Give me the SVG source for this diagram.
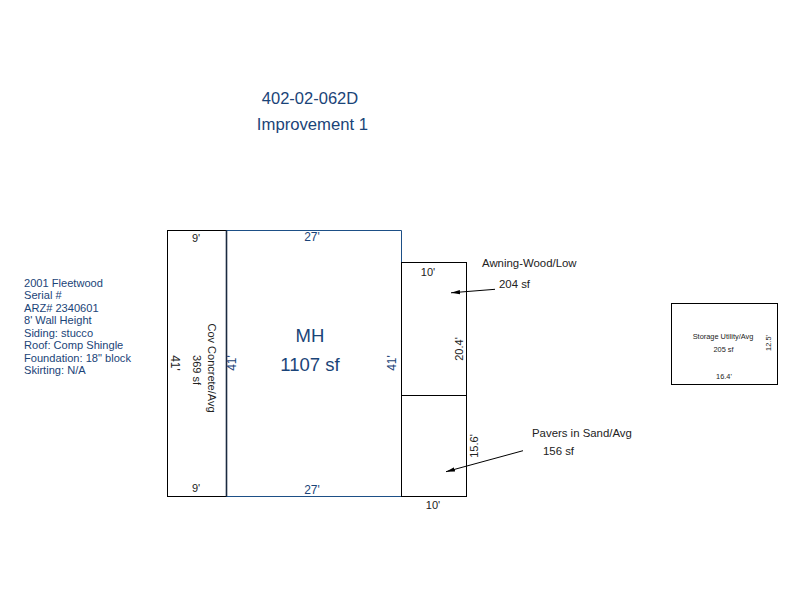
<svg xmlns="http://www.w3.org/2000/svg" width="800" height="600" viewBox="0 0 800 600">
<defs>
<marker id="arrow" markerUnits="userSpaceOnUse" markerWidth="9" markerHeight="6" refX="9" refY="3" orient="auto" viewBox="0 0 9 6"><path d="M9 3L0 0.8V5.200Z" fill="#000"/></marker>
</defs>
<style>
text{font-family:"Liberation Sans",Arial,sans-serif}
.b{fill:#1a4478}
.k{fill:#222}
.r{fill:none;stroke:#000;stroke-width:1}
.s12{font-size:12px}
.s11{font-size:11px}
.l{font-size:11.400px}
.t{font-size:7.400px}
.m{text-anchor:middle}
</style>
<rect width="800" height="600" fill="#fff"/>
<g id="titles">
<text class="b m" x="310" y="104" font-size="16.500">402-02-062D</text>
<text class="b m" x="312.500" y="130" font-size="16.700">Improvement 1</text>
</g>
<g id="notes" class="b" font-size="11.100">
<text x="24" y="287">2001 Fleetwood</text>
<text x="24" y="299">Serial #</text>
<text x="24" y="312">ARZ# 2340601</text>
<text x="24" y="324">8' Wall Height</text>
<text x="24" y="337">Siding: stucco</text>
<text x="24" y="349">Roof: Comp Shingle</text>
<text x="24" y="362">Foundation: 18" block</text>
<text x="24" y="374">Skirting: N/A</text>
</g>
<g id="cov-concrete">
<rect class="r" x="167.500" y="230.500" width="59" height="266"/>
<text class="k m s11" x="196" y="242">9'</text>
<text class="k m s11" x="196" y="492">9'</text>
<text class="k m s12" transform="translate(171 363) rotate(90)">41'</text>
<text class="k m s11" transform="translate(208 368) rotate(90)">Cov Concrete/Avg</text>
<text class="k m s11" transform="translate(193 370) rotate(90)">369 sf</text>
</g>
<g id="mh">
<path d="M226.500 230.500H401.500V496.500H226.500" fill="none" stroke="#1d4f86"/>
<line x1="226.500" y1="230.500" x2="226.500" y2="496.500" stroke="#1a2a40" stroke-width="1.600"/>
<text class="b m s12" x="312" y="241">27'</text>
<text class="b m s12" x="312" y="494">27'</text>
<text class="b m s12" transform="translate(236 363) rotate(-90)">41'</text>
<text class="b m s12" transform="translate(396 363) rotate(-90)">41'</text>
<text class="b m" x="310" y="342" font-size="18.500">MH</text>
<text class="b m" x="310" y="371" font-size="18.500">1107 sf</text>
</g>
<g id="awning">
<rect class="r" x="401.500" y="262.500" width="65" height="133"/>
<text class="k m s11" x="428" y="276">10'</text>
<text class="k m s11" transform="translate(463 349) rotate(-90)">20.4'</text>
<text class="k l" x="482" y="267">Awning-Wood/Low</text>
<text class="k l" x="499" y="288">204 sf</text>
</g>
<g id="pavers">
<rect class="r" x="401.500" y="395.500" width="65" height="101"/>
<text class="k m s11" transform="translate(478 446) rotate(-90)">15.6'</text>
<text class="k m s11" x="433" y="509">10'</text>
<text class="k l" x="532" y="437">Pavers in Sand/Avg</text>
<text class="k l" x="543" y="455">156 sf</text>
</g>
<g id="storage">
<rect class="r" x="671.500" y="303.500" width="106" height="81"/>
<text class="k m t" x="723" y="339">Storage Utility/Avg</text>
<text class="k m t" x="723.500" y="352">205 sf</text>
<text class="k m t" x="724" y="379">16.4'</text>
<text class="k m t" transform="translate(771 343) rotate(-90)">12.5'</text>
</g>
<g id="connectors" stroke="#000" stroke-width="1" fill="none">
<line x1="495" y1="289.300" x2="451" y2="292.800" marker-end="url(#arrow)"/>
<line x1="523" y1="450.700" x2="446" y2="471.700" marker-end="url(#arrow)"/>
</g>
</svg>
